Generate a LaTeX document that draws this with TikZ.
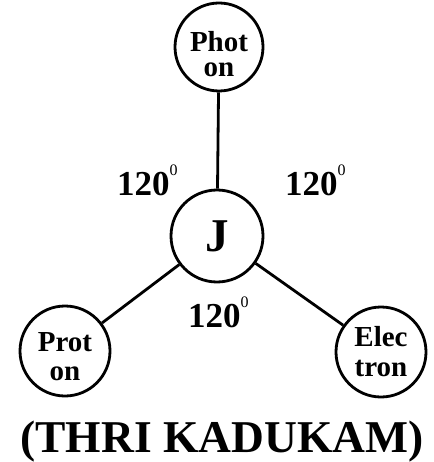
\documentclass[tikz,border=0pt]{standalone}
\usepackage{fontspec}
\setmainfont{Liberation Serif}
\newcommand{\degsup}{\raisebox{0.55em}{\fontsize{16}{16}\selectfont\mdseries 0}}
\begin{document}
\begin{tikzpicture}[x=1pt,y=-1pt,
  ball/.style={circle,draw,line width=2.8pt,inner sep=0pt,minimum size=88pt},
  balltext/.style={align=center,inner sep=0pt,font=\fontsize{29}{#1}\selectfont\bfseries},
  link/.style={line width=2.8pt},
  angle/.style={anchor=base west,inner sep=0pt,font=\fontsize{35}{35}\selectfont\bfseries}]
\useasboundingbox (0,0) rectangle (433,462);
\node[ball] (ph) at (219,47) {};
\node[balltext=25.5] (pht) at (219,54) {Phot\\on};
\node[ball,minimum size=92pt,font=\fontsize{47}{47}\selectfont\bfseries] (j) at (217,236) {J};
\node[ball,minimum size=90pt] (pr) at (65,351) {};
\node[balltext=29] (prt) at (65,357) {Prot\\on};
\node[ball,minimum size=90pt] (el) at (381,352) {};
\node[balltext=30] (elt) at (381,352) {Elec\\tron};
\draw[link] (ph) -- (j);
\draw[link] (j) -- (pr);
\draw[link] (j) -- (el);
\node[angle] (a1) at (117,195) {120\degsup};
\node[angle] (a2) at (285,195) {120\degsup};
\node[angle] (a3) at (188,327) {120\degsup};
\node[anchor=base,inner sep=0pt,font=\fontsize{45.5}{46}\selectfont\bfseries] (t) at (222,452) {(THRI KADUKAM)};
\end{tikzpicture}
\end{document}
